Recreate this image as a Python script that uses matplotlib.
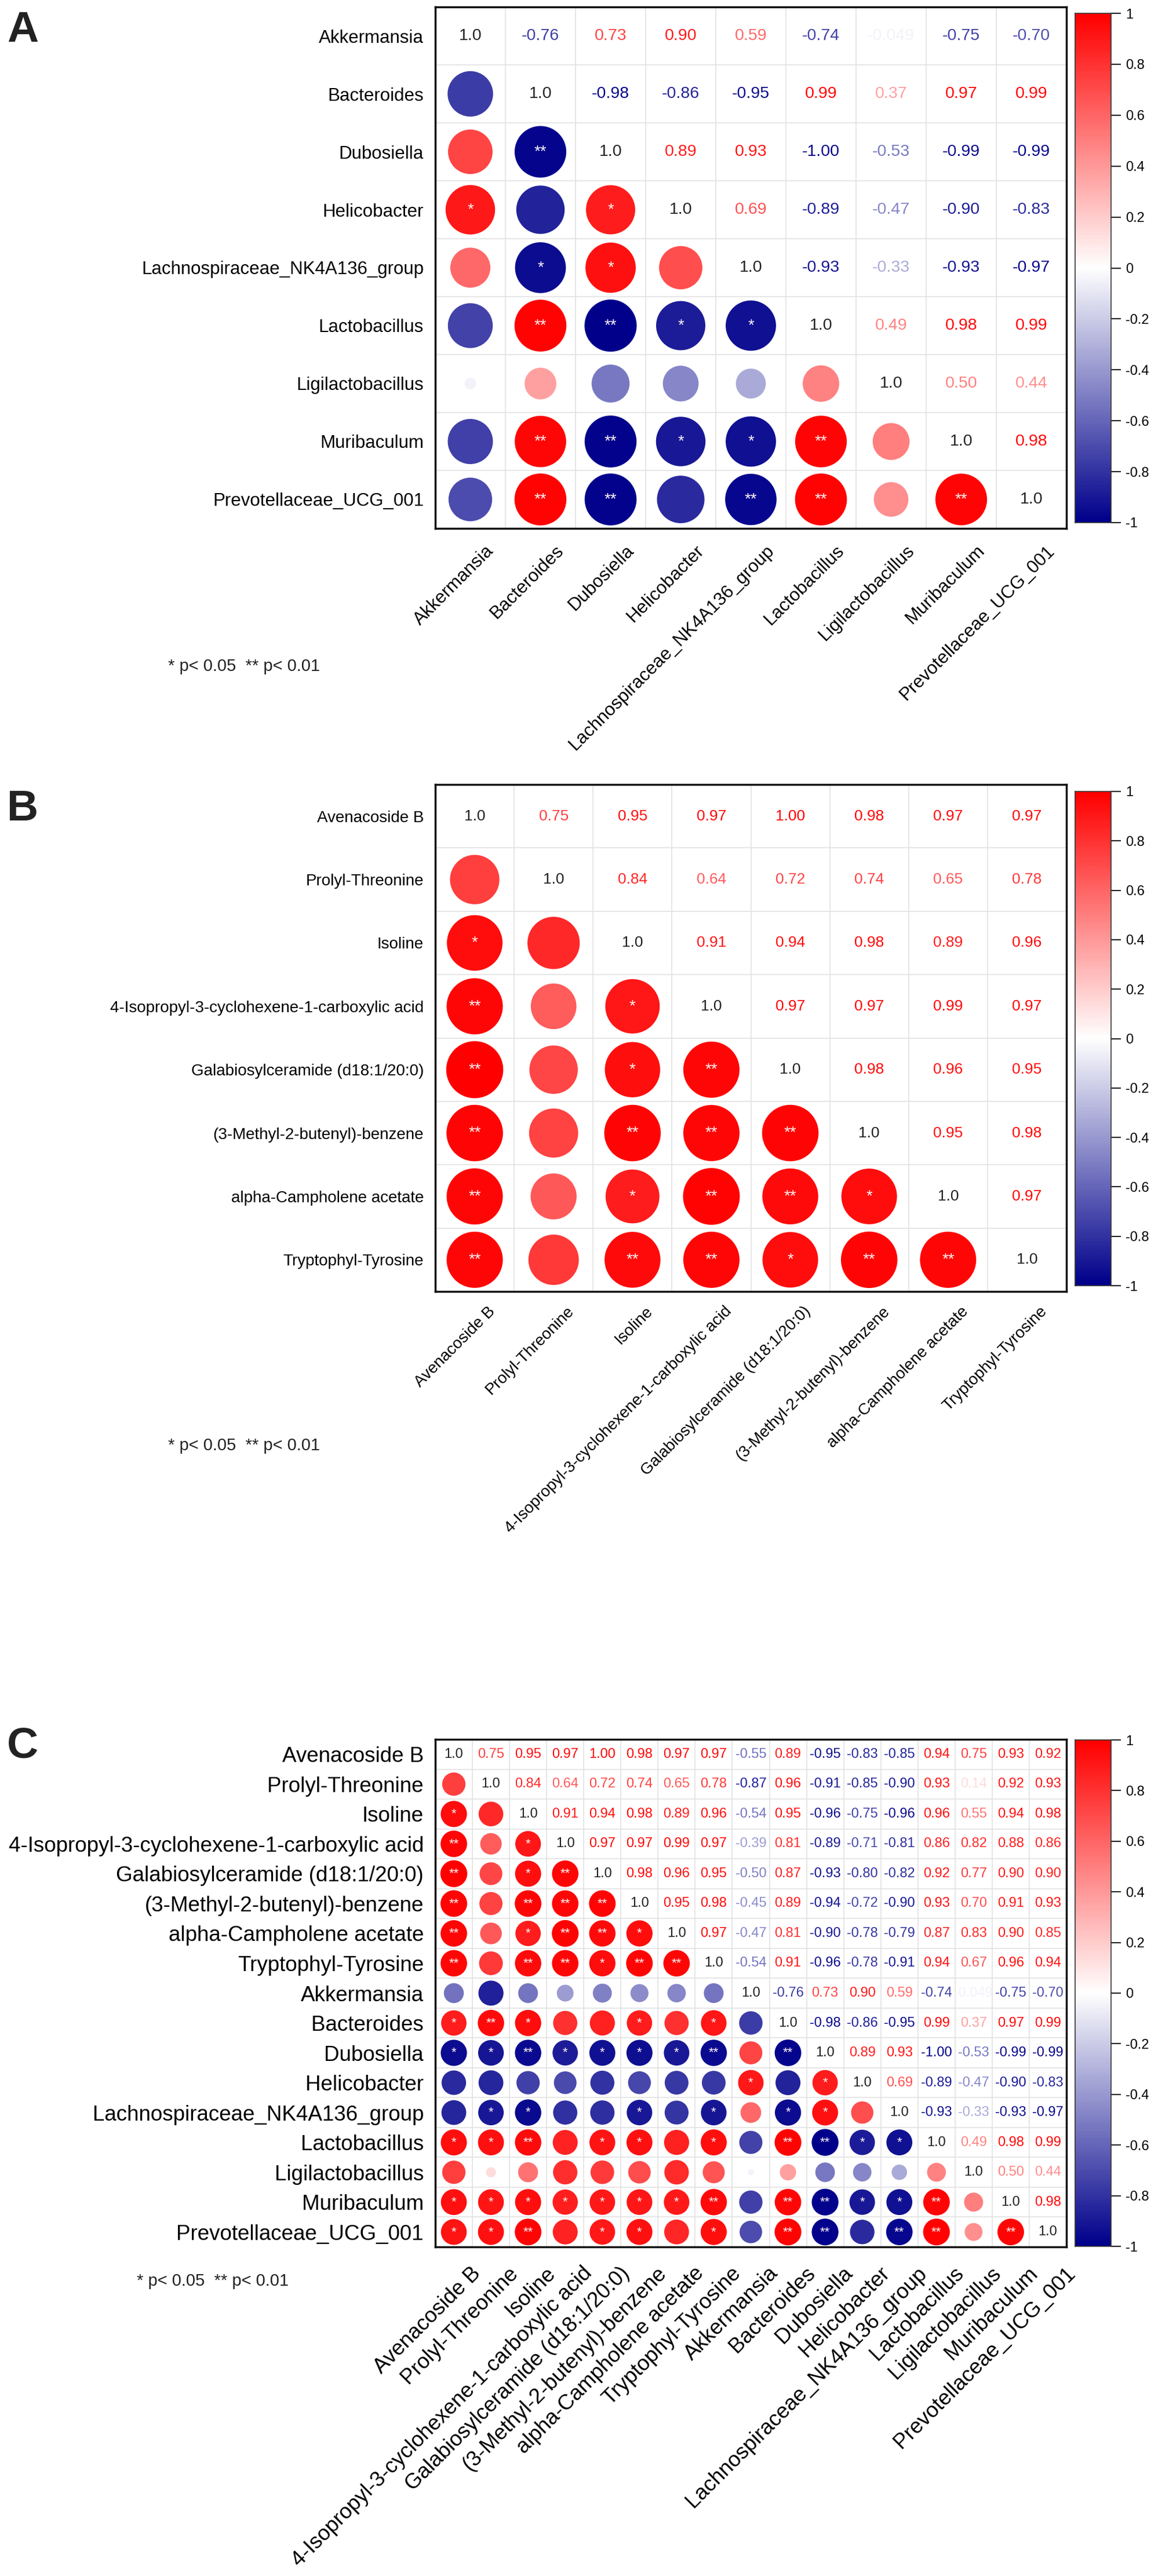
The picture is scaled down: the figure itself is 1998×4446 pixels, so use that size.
import numpy as np
import matplotlib
matplotlib.use('Agg')
import matplotlib.pyplot as plt
from matplotlib.colors import LinearSegmentedColormap
from matplotlib.patches import Ellipse
from matplotlib.transforms import ScaledTranslation

plt.rcParams['font.family'] = ['Liberation Sans', 'DejaVu Sans']

# ---------------- data ----------------
metabolites = ["Avenacoside B", "Prolyl-Threonine", "Isoline",
               "4-Isopropyl-3-cyclohexene-1-carboxylic acid",
               "Galabiosylceramide (d18:1/20:0)", "(3-Methyl-2-butenyl)-benzene",
               "alpha-Campholene acetate", "Tryptophyl-Tyrosine"]
bacteria = ["Akkermansia", "Bacteroides", "Dubosiella", "Helicobacter",
            "Lachnospiraceae_NK4A136_group", "Lactobacillus", "Ligilactobacillus",
            "Muribaculum", "Prevotellaceae_UCG_001"]

# upper triangle (from diagonal to the right), row by row
r_upper = [
    [1.0, 0.75, 0.95, 0.97, 1.00, 0.98, 0.97, 0.97, -0.55, 0.89, -0.95, -0.83, -0.85, 0.94, 0.75, 0.93, 0.92],
    [1.0, 0.84, 0.64, 0.72, 0.74, 0.65, 0.78, -0.87, 0.96, -0.91, -0.85, -0.90, 0.93, 0.14, 0.92, 0.93],
    [1.0, 0.91, 0.94, 0.98, 0.89, 0.96, -0.54, 0.95, -0.96, -0.75, -0.96, 0.96, 0.55, 0.94, 0.98],
    [1.0, 0.97, 0.97, 0.99, 0.97, -0.39, 0.81, -0.89, -0.71, -0.81, 0.86, 0.82, 0.88, 0.86],
    [1.0, 0.98, 0.96, 0.95, -0.50, 0.87, -0.93, -0.80, -0.82, 0.92, 0.77, 0.90, 0.90],
    [1.0, 0.95, 0.98, -0.45, 0.89, -0.94, -0.72, -0.90, 0.93, 0.70, 0.91, 0.93],
    [1.0, 0.97, -0.47, 0.81, -0.90, -0.78, -0.79, 0.87, 0.83, 0.90, 0.85],
    [1.0, -0.54, 0.91, -0.96, -0.78, -0.91, 0.94, 0.67, 0.96, 0.94],
    [1.0, -0.76, 0.73, 0.90, 0.59, -0.74, -0.049, -0.75, -0.70],
    [1.0, -0.98, -0.86, -0.95, 0.99, 0.37, 0.97, 0.99],
    [1.0, 0.89, 0.93, -1.00, -0.53, -0.99, -0.99],
    [1.0, 0.69, -0.89, -0.47, -0.90, -0.83],
    [1.0, -0.93, -0.33, -0.93, -0.97],
    [1.0, 0.49, 0.98, 0.99],
    [1.0, 0.50, 0.44],
    [1.0, 0.98],
    [1.0],
]

# significance marks, lower triangle (columns 0 .. i-1)
sig_lower = [
    [],
    [''],
    ['*', ''],
    ['**', '', '*'],
    ['**', '', '*', '**'],
    ['**', '', '**', '**', '**'],
    ['**', '', '*', '**', '**', '*'],
    ['**', '', '**', '**', '*', '**', '**'],
    ['', '', '', '', '', '', '', ''],
    ['*', '**', '*', '', '', '*', '', '*', ''],
    ['*', '*', '**', '*', '*', '*', '*', '**', '', '**'],
    ['', '', '', '', '', '', '', '', '*', '', '*'],
    ['', '*', '*', '', '', '*', '', '*', '', '*', '*', ''],
    ['*', '*', '**', '', '*', '*', '', '*', '', '**', '**', '*', '*'],
    ['', '', '', '', '', '', '', '', '', '', '', '', '', ''],
    ['*', '*', '*', '*', '*', '*', '*', '**', '', '**', '**', '*', '*', '**', ''],
    ['*', '*', '**', '', '*', '*', '', '*', '', '**', '**', '', '**', '**', '', '**'],
]

cbar_ticks = [1, 0.8, 0.6, 0.4, 0.2, 0, -0.2, -0.4, -0.6, -0.8, -1]
cbar_labels = ["1", "0.8", "0.6", "0.4", "0.2", "0", "-0.2", "-0.4", "-0.6", "-0.8", "-1"]
note_text = "* p< 0.05  ** p< 0.01"

# ---------------- build matrices ----------------
all_names = metabolites + bacteria
N = len(all_names)
R = np.zeros((N, N))
S = [[''] * N for _ in range(N)]
for i, row in enumerate(r_upper):
    for k, v in enumerate(row):
        R[i, i + k] = v
        R[i + k, i] = v
for i, row in enumerate(sig_lower):
    for j, s in enumerate(row):
        S[i][j] = s

W, H = 1999, 4446
fig = plt.figure(figsize=(W / 100, H / 100), dpi=100)
cmap = LinearSegmentedColormap.from_list('bwr_corr', ['#00008B', '#FFFFFF', '#FF0000'])


def px_axes(left, top, right, bottom):
    return fig.add_axes([left / W, 1 - bottom / H, (right - left) / W, (bottom - top) / H])


def fmt(v):
    if abs(v) < 0.1:
        return f"{v:.3f}"
    return f"{v:.2f}"


def draw_panel(idx, box, cbox, lab_fs, num_fs, star_fs, cb_fs):
    names = [all_names[k] for k in idx]
    n = len(idx)
    sub = R[np.ix_(idx, idx)]
    ax = px_axes(*box)
    ax.set_xlim(0, n)
    ax.set_ylim(n, 0)
    cw = (box[2] - box[0]) / n
    ch = (box[3] - box[1]) / n
    dmax = 0.9 * min(cw, ch)
    for k in range(1, n):
        ax.axhline(k, color='#e2e2e2', lw=1.2, zorder=0)
        ax.axvline(k, color='#e2e2e2', lw=1.2, zorder=0)
    for i in range(n):
        for j in range(n):
            v = sub[i, j]
            if i == j:
                ax.text(j + 0.5, i + 0.5, "1.0", ha='center', va='center',
                        fontsize=num_fs, color='#222222')
            elif j > i:
                ax.text(j + 0.5, i + 0.5, fmt(v), ha='center', va='center',
                        fontsize=num_fs, color=cmap((v + 1) / 2))
            else:
                d = dmax * np.sqrt(abs(v))
                e = Ellipse((j + 0.5, i + 0.5), d / cw, d / ch,
                            facecolor=cmap((v + 1) / 2), edgecolor='none', zorder=2)
                ax.add_patch(e)
                s = S[idx[i]][idx[j]]
                if s:
                    ax.text(j + 0.5, i + 0.5, s, ha='center', va='center',
                            fontsize=star_fs, color='#fff4f4', zorder=3)
    for sp in ax.spines.values():
        sp.set_linewidth(2.5)
        sp.set_color('#111111')
    ax.set_yticks(np.arange(n) + 0.5)
    ax.set_yticklabels(names, fontsize=lab_fs)
    ax.set_xticks(np.arange(n) + 0.5)
    ax.set_xticklabels(names, fontsize=lab_fs, rotation=45, ha='right',
                       va='top', rotation_mode='anchor')
    ax.tick_params(axis='y', length=0, pad=14.4)
    ax.tick_params(axis='x', length=0, pad=0.76 * lab_fs)
    shift = ScaledTranslation(0.79 * lab_fs / 72, 0, fig.dpi_scale_trans)
    for lab in ax.get_xticklabels():
        lab.set_transform(lab.get_transform() + shift)

    cax = px_axes(*cbox)
    grad = np.linspace(1, -1, 400).reshape(-1, 1)
    cax.imshow(grad, cmap=cmap, vmin=-1, vmax=1, aspect='auto',
               extent=[0, 1, -1, 1])
    cax.set_xlim(0, 1)
    cax.set_ylim(-1, 1)
    cax.set_xticks([])
    cax.yaxis.tick_right()
    cax.set_yticks(cbar_ticks)
    cax.set_yticklabels(cbar_labels, fontsize=cb_fs)
    cax.tick_params(axis='y', length=12, width=1.5, pad=6, color='#222222')
    for sp in cax.spines.values():
        sp.set_linewidth(1.2)
        sp.set_color('#333333')
    return ax


idx_A = list(range(8, 17))
idx_B = list(range(0, 8))
idx_C = list(range(0, 17))

draw_panel(idx_A, (751, 12, 1840, 912), (1855, 23, 1917, 902), 22.5, 20.5, 20, 17)
draw_panel(idx_B, (751, 1354, 1840, 2229), (1855, 1366, 1917, 2219), 20, 19, 20, 17)
draw_panel(idx_C, (751, 3002, 1840, 3878), (1855, 3003, 1917, 3877), 26.5, 17, 16, 17)

for letter, y in [("A", 18), ("B", 1362), ("C", 2980)]:
    fig.text(12 / W, 1 - y / H, letter, fontsize=54, fontweight='bold',
             ha='left', va='top', color='#222222')

for x, y in [(290, 1150), (290, 2495), (236, 3937)]:
    fig.text(x / W, 1 - y / H, note_text, fontsize=21, ha='left', va='center',
             color='#222222')

fig.savefig('out.png', dpi=100)
